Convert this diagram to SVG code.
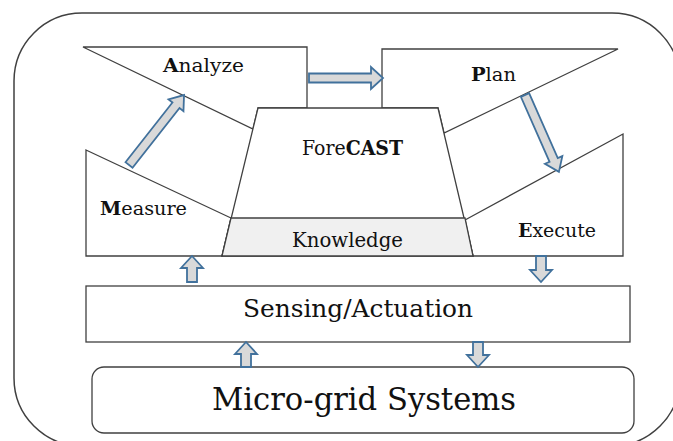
<svg xmlns="http://www.w3.org/2000/svg" width="673" height="441" viewBox="0 0 673 441">
  <style>
    .shape { fill: #ffffff; stroke: #404040; stroke-width: 1.3; stroke-linejoin: miter; }
    .band { fill: #f0f0f0; stroke: #404040; stroke-width: 1.3; }
    .lbl { font-family: "DejaVu Serif", "Liberation Serif", serif; fill: #111111; }
    .arrow { fill: #d9d9d9; stroke: #41719c; stroke-width: 1.8; stroke-linejoin: miter; }
    .b { font-weight: bold; }
  </style>
  <rect x="0" y="0" width="673" height="441" fill="#ffffff"/>
  <g id="frame">
    <rect x="14" y="13" width="666" height="433" rx="68" ry="68" fill="none" stroke="#404040" stroke-width="1.5"/>
  </g>
  <g id="analyze">
    <polygon class="shape" points="83,47 307,47 307,108 258,108 253,129"/>
    <text class="lbl" x="163" y="72" font-size="18.5" textLength="81" lengthAdjust="spacingAndGlyphs"><tspan class="b">A</tspan>nalyze</text>
  </g>
  <g id="plan">
    <polygon class="shape" points="382,108 382,49 618,49 444,133 438,108"/>
    <text class="lbl" x="471" y="81" font-size="18.5" textLength="45" lengthAdjust="spacingAndGlyphs"><tspan class="b">P</tspan>lan</text>
  </g>
  <g id="measure">
    <polygon class="shape" points="86,150 231,218 222,256 86,256"/>
    <text class="lbl" x="100" y="215" font-size="18.5" textLength="87" lengthAdjust="spacingAndGlyphs"><tspan class="b">M</tspan>easure</text>
  </g>
  <g id="execute">
    <polygon class="shape" points="465,220 623,134 623,256 473,256"/>
    <text class="lbl" x="518" y="237" font-size="18.5" textLength="78" lengthAdjust="spacingAndGlyphs"><tspan class="b">E</tspan>xecute</text>
  </g>
  <g id="forecast">
    <polygon class="shape" points="258,108 438,108 473,256 222,256"/>
    <text class="lbl" x="302" y="155" font-size="20" textLength="101" lengthAdjust="spacingAndGlyphs">Fore<tspan class="b">CAST</tspan></text>
  </g>
  <g id="knowledge">
    <polygon class="band" points="231,218 465,218 473,256 222,256"/>
    <text class="lbl" x="292" y="247" font-size="20" textLength="111" lengthAdjust="spacingAndGlyphs">Knowledge</text>
  </g>
  <g id="sensing">
    <rect class="shape" x="86" y="286" width="544" height="56"/>
    <text class="lbl" x="243" y="317" font-size="24" textLength="230" lengthAdjust="spacingAndGlyphs">Sensing/Actuation</text>
  </g>
  <g id="microgrid">
    <rect class="shape" x="92" y="367" width="542" height="66" rx="12" ry="12"/>
    <text class="lbl" x="212" y="410" font-size="31.5" textLength="304" lengthAdjust="spacingAndGlyphs">Micro-grid Systems</text>
  </g>
  <g id="connectors">
    <polygon class="arrow" transform="translate(309,78)" points="0,-4.5 62,-4.5 62,-11 74,0 62,11 62,4.5 0,4.5"/>
    <polygon class="arrow" transform="translate(129,165) rotate(-51.8)" points="0,-4.5 76,-4.5 76,-9.5 89,0 76,9.5 76,4.5 0,4.5"/>
    <polygon class="arrow" transform="translate(525,95) rotate(66.2)" points="0,-4.5 71,-4.5 71,-9.5 84,0 71,9.5 71,4.5 0,4.5"/>
    <polygon class="arrow" transform="translate(192,282) rotate(-90)" points="0,-5 14,-5 14,-11 26,0 14,11 14,5 0,5"/>
    <polygon class="arrow" transform="translate(246,367) rotate(-90)" points="0,-5 13,-5 13,-11 25,0 13,11 13,5 0,5"/>
    <polygon class="arrow" transform="translate(541,256) rotate(90)" points="0,-5 14,-5 14,-11 26,0 14,11 14,5 0,5"/>
    <polygon class="arrow" transform="translate(478,342) rotate(90)" points="0,-5 13,-5 13,-11 25,0 13,11 13,5 0,5"/>
  </g>
</svg>
